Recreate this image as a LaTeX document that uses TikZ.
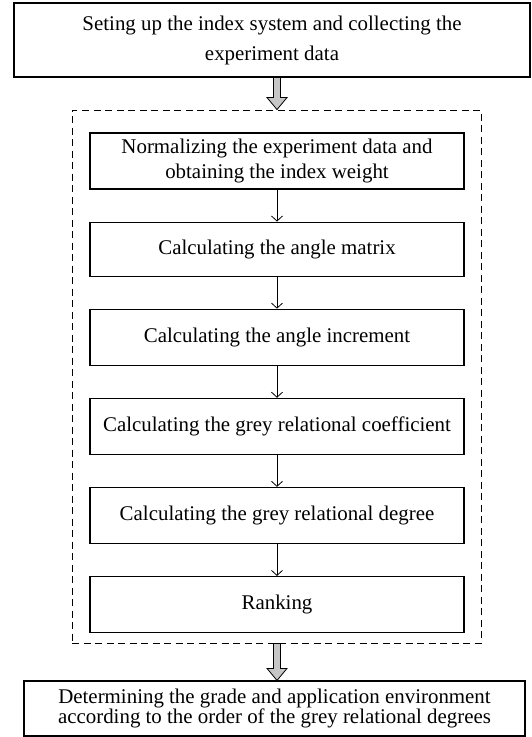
\documentclass[tikz,border=0pt]{standalone}
\usepackage{fontspec}
\setmainfont{Liberation Serif}
\usetikzlibrary{arrows.meta,positioning,calc}
\tikzset{
  flowarr/.style={-{Straight Barb[length=5pt,width=11pt]}, line width=0.8pt},
  flownode/.style={draw, line width=1.1pt, align=center, inner sep=2pt},
  hollowarr/.style={draw, line width=0.8pt, fill=gray!45},
}
% fat grey arrow between two points (same x)
\newcommand\hollowarrow[2]{%
  \path[hollowarr] let \p1=(#1), \p2=(#2) in
    (\x1-3.5pt,\y1) -- (\x1-3.5pt,\y2+12pt) -- (\x1-10pt,\y2+12pt) -- (\x1,\y2)
    -- (\x1+10pt,\y2+12pt) -- (\x1+3.5pt,\y2+12pt) -- (\x1+3.5pt,\y1) -- cycle;}

\begin{document}
\begin{tikzpicture}[
  x=1pt, y=-1pt,
  font=\fontsize{20.9}{25}\selectfont,
  stepbox/.style={flownode, minimum width=374pt, minimum height=56pt},
  groupbox/.style={draw, dash pattern=on 7pt off 4.5pt, line width=0.9pt,
    minimum width=409pt, minimum height=533pt},
]
  \useasboundingbox (0,0) rectangle (532,737);
  \node[flownode, minimum width=516pt, minimum height=74pt,
    font=\fontsize{20.9}{30}\selectfont] (top) at (272,40)
    {Seting up the index system and collecting the\\experiment data};
  \node[groupbox] (grp) at (276.5,376.5) {};
  \node[stepbox] (b1) at (277,161) {Normalizing the experiment data and\\obtaining the index weight};
  \node[stepbox, below=32pt of b1, minimum height=54pt] (b2) {Calculating the angle matrix};
  \node[stepbox, below=32pt of b2] (b3) {Calculating the angle increment};
  \node[stepbox, below=32pt of b3] (b4) {Calculating the grey relational coefficient};
  \node[stepbox, below=32pt of b4] (b5) {Calculating the grey relational degree};
  \node[stepbox, below=32pt of b5] (b6) {Ranking};
  \node[flownode, minimum width=501pt, minimum height=55pt,
    font=\fontsize{20.9}{19}\selectfont] (bot) at (274.5,708.5)
    {Determining the grade and application environment\\according to the order of the grey relational degrees};
  \foreach \a/\b in {b1/b2,b2/b3,b3/b4,b4/b5,b5/b6}
    \draw[flowarr] (\a) -- (\b);
  \hollowarrow{top.south -| b1.north}{grp.north -| b1.north}
  \hollowarrow{grp.south -| b6.south}{bot.north -| b6.south}
\end{tikzpicture}
\end{document}
